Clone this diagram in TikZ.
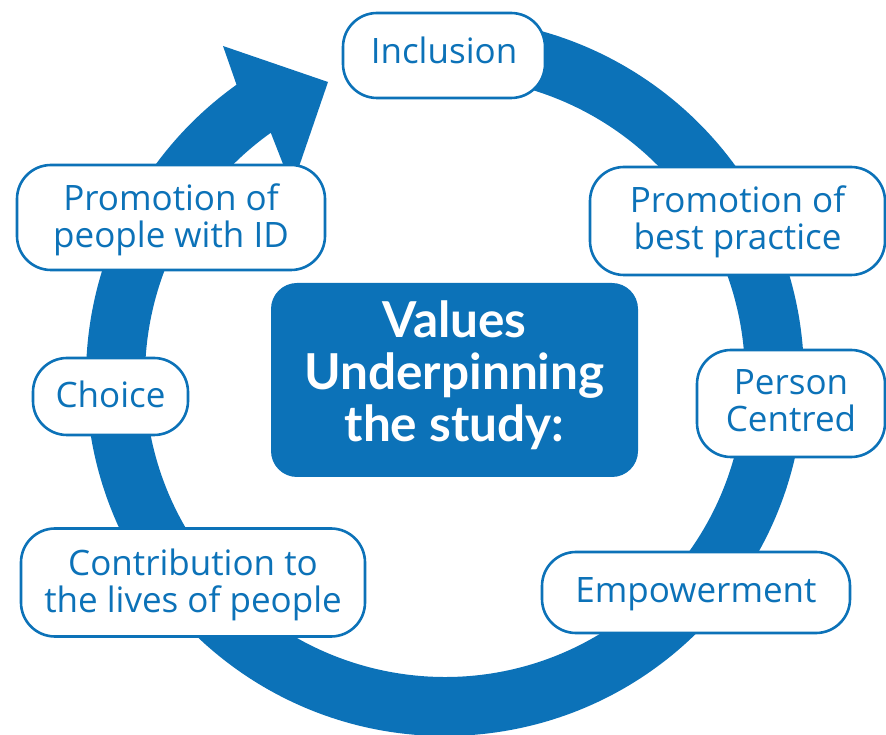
\documentclass[tikz,border=0pt]{standalone}
\usepackage{fontspec}
\setmainfont{Lato}
\newfontfamily\labelfont{Open Sans}
\usetikzlibrary{calc}
\definecolor{ringblue}{HTML}{0C72B8}
\begin{document}
\begin{tikzpicture}[x=1pt,y=1pt,
  val/.style={draw=ringblue, line width=2.6pt, fill=white, rounded corners=34pt,
    text=ringblue, font=\labelfont\fontsize{35}{37}\selectfont, align=center, inner sep=0pt},
  one/.style={text height=25pt, text depth=#1},
  two/.style={text height=62pt, text depth=#1},
  core/.style={fill=ringblue, rounded corners=26pt, text=white,
    font=\bfseries\fontsize{49.5}{52}\selectfont, align=center, inner sep=0pt}]
\path[use as bounding box] (0,0) rectangle (886,734);
\coordinate (C) at (445,357);
% ring with arrow head
\fill[ringblue] ($(C)+(95:359)$) arc[start angle=95, end angle=-234.5, radius=359]
  -- (223,688) -- (328,652) -- (292,547)
  -- ($(C)+(125.5:300)$) arc[start angle=125.5, end angle=455, radius=300] -- cycle;
% centre
\node[core, minimum width=367pt, minimum height=194pt, text height=139pt, text depth=15pt] (values) at (454.5,354) {Values\\Underpinning\\the study:};
% values
\node[val, one=8pt, minimum width=202pt, minimum height=85pt] (inclusion) at (444,678.5) {Inclusion};
\node[val, two=1pt, minimum width=308pt, minimum height=105pt] (promid) at (171,516.5) {Promotion of\\people with ID};
\node[val, two=4pt, minimum width=295pt, minimum height=108pt] (prombest) at (737.5,513) {Promotion of\\best practice};
\node[val, two=5pt, minimum width=188pt, minimum height=107pt] (person) at (791,330.5) {Person\\Centred};
\node[val, one=6pt, minimum width=308pt, minimum height=81pt] (empower) at (696,141.5) {Empowerment};
\node[val, one=2pt, minimum width=155pt, minimum height=77pt] (choice) at (110.5,337.5) {Choice};
\node[val, two=3pt, minimum width=344pt, minimum height=108pt] (contrib) at (193,151.5) {Contribution to\\the lives of people};
\end{tikzpicture}
\end{document}
